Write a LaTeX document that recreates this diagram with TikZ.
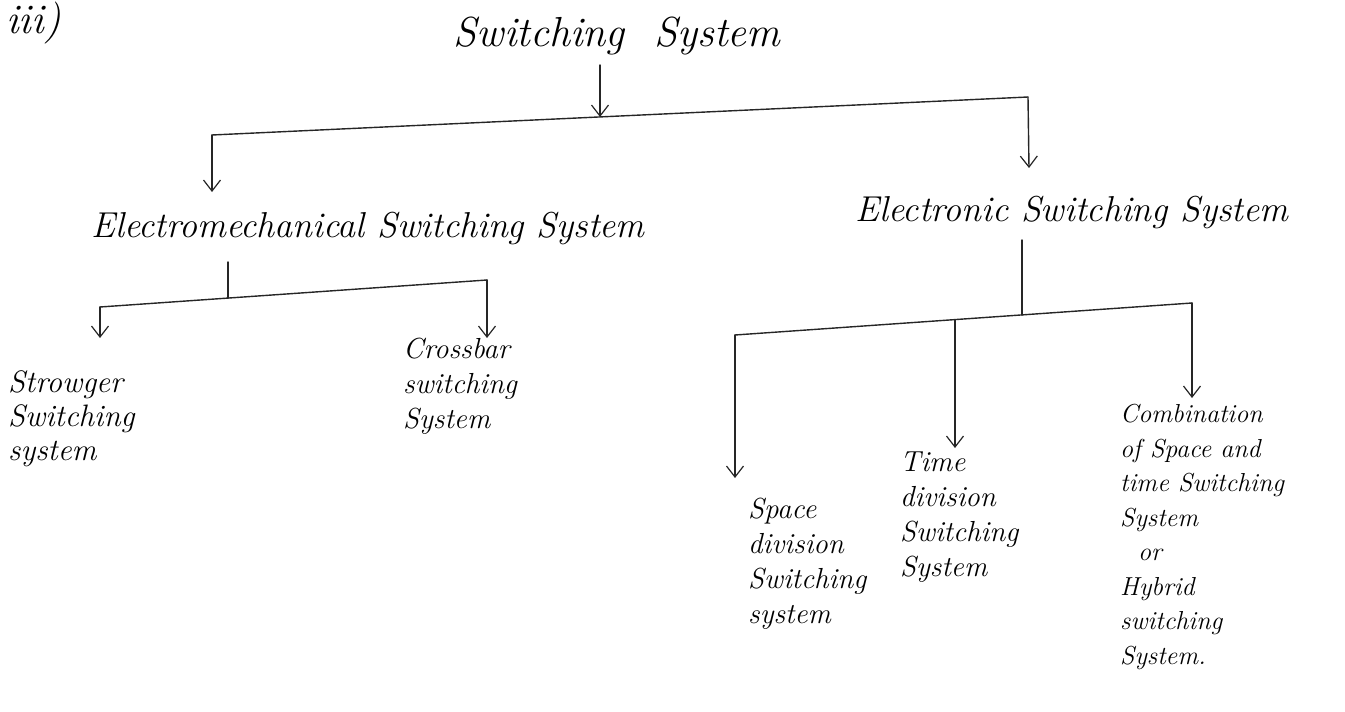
\documentclass[tikz,border=0pt]{standalone}
\usetikzlibrary{arrows.meta}
\begin{document}
\begin{tikzpicture}[x=1pt,y=-1pt,
  ink/.style={draw=black!85, line width=1.4pt, line cap=round},
  arr/.style={ink, -{Straight Barb[length=11pt,width=17pt,line width=1.2pt]}},
  big/.style={font=\fontsize{42}{46}\selectfont\itshape, inner sep=0pt},
  mid/.style={font=\fontsize{36}{40}\selectfont\itshape, inner sep=0pt},
  leaf/.style={font=\fontsize{29}{35}\selectfont\itshape, inner sep=0pt, align=left},
]
\useasboundingbox (0,0) rectangle (1345,712);
% labels
\node[big, anchor=north west] (num) at (6,2) {iii)};
\node[big] (root) at (617,36) {Switching\ \ System};
\node[mid] (em) at (368,228) {Electromechanical Switching System};
\node[mid] (es) at (1072,212) {Electronic Switching System};
\node[leaf, anchor=north west, font=\fontsize{31}{34}\selectfont\itshape] (st) at (8,370) {Strowger\\Switching\\system};
\node[leaf, anchor=north west] (cb) at (403,338) {Crossbar\\switching\\System};
\node[leaf, anchor=north west] (sd) at (748,498) {Space\\division\\Switching\\system};
\node[leaf, anchor=north west] (td) at (900,452) {Time\\division\\Switching\\System};
\node[leaf, anchor=north west, font=\fontsize{26}{34.5}\selectfont\itshape] (cm) at (1120,404) {Combination\\of Space and\\time Switching\\System\\\hspace*{18pt}or\\Hybrid\\switching\\System.};
% level 1
\coordinate (aL) at (212,135);
\coordinate (aR) at (1028,97);
\coordinate (aM) at (600,117);
\draw[arr] (600,65) -- (aM);
\draw[ink] (aL) -- (aR);
\draw[arr] (aL) -- (212,192);
\draw[arr] (aR) -- (1029,168);
% electromechanical branch
\coordinate (bL) at (100,307);
\coordinate (bR) at (487,280);
\coordinate (bM) at (228,298);
\draw[ink] (228,262) -- (bM);
\draw[ink] (bL) -- (bR);
\draw[arr] (bL) -- (100,338);
\draw[arr] (bR) -- (487,338);
% electronic branch
\coordinate (cL) at (735,335);
\coordinate (cR) at (1192,303);
\coordinate (cM) at (1022,315);
\coordinate (cT) at (955,320);
\draw[ink] (1022,240) -- (cM);
\draw[ink] (cL) -- (cR);
\draw[arr] (cL) -- (735,478);
\draw[arr] (cT) -- (955,448);
\draw[arr] (cR) -- (1192,398);
\end{tikzpicture}
\end{document}
